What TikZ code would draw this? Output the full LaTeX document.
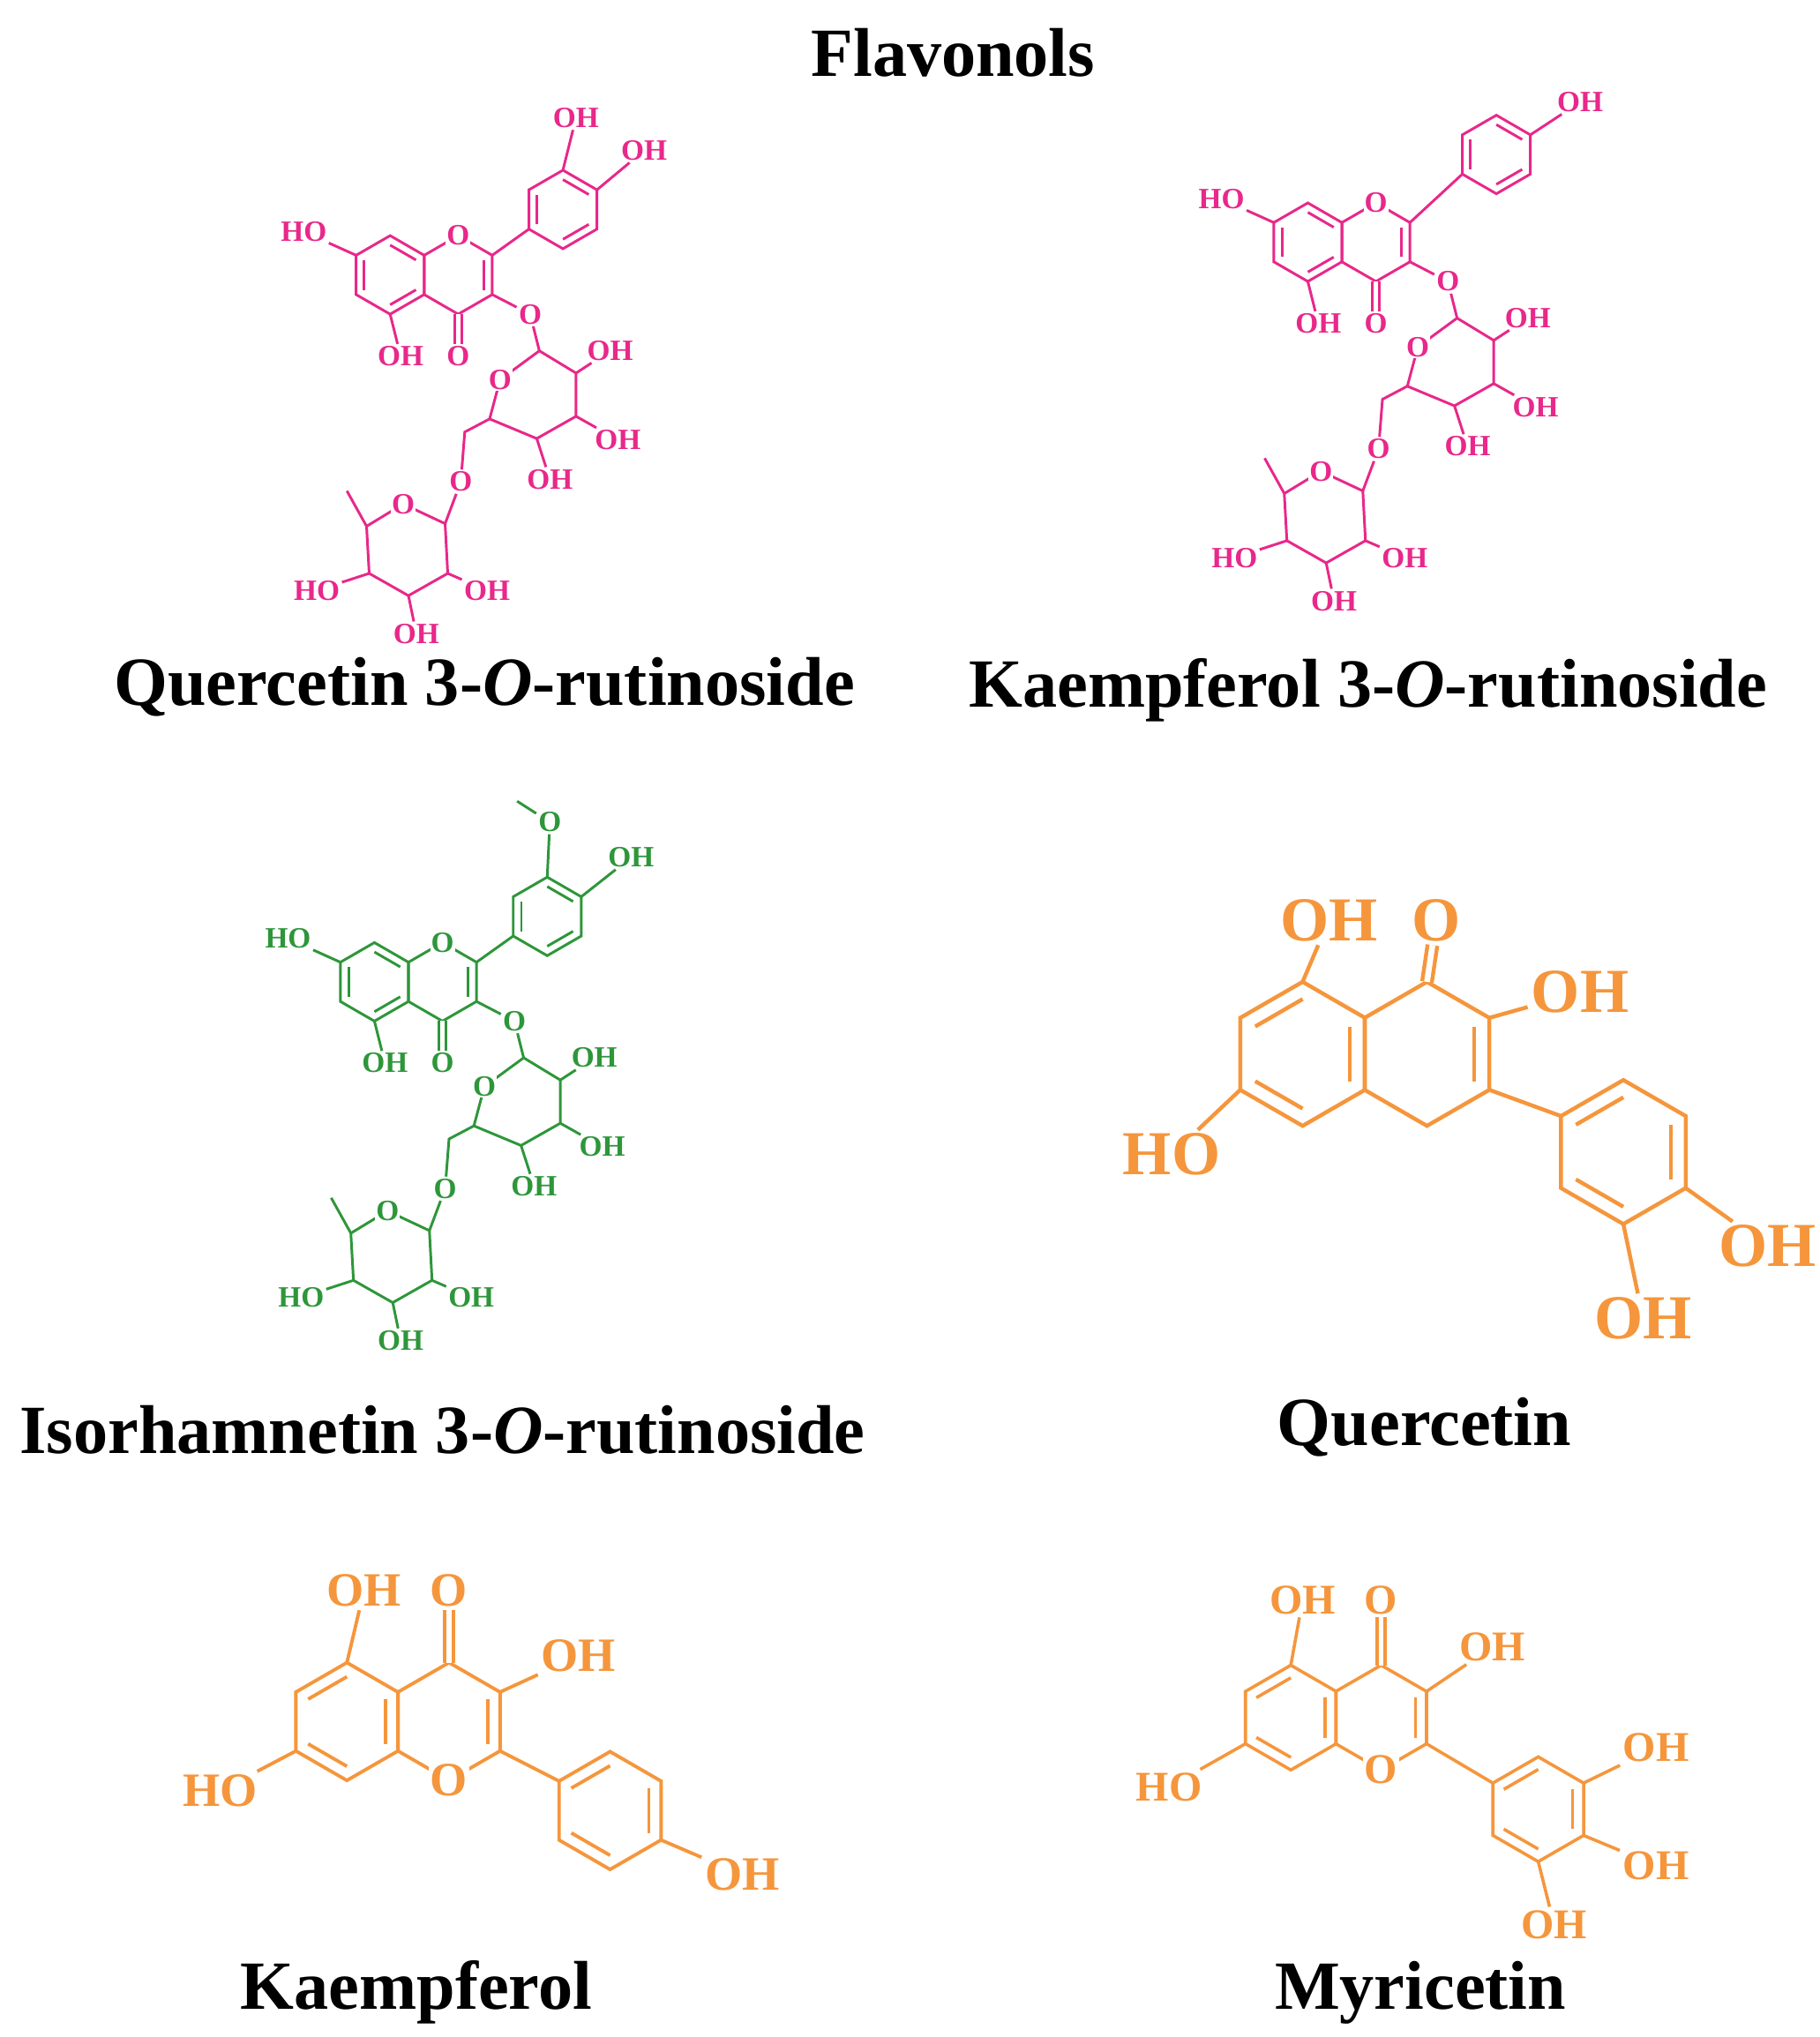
\documentclass[tikz,border=0pt]{standalone}
\usepackage{fontspec}
\setmainfont{Liberation Serif}
\usetikzlibrary{calc}
\definecolor{pk}{RGB}{232,40,138}
\definecolor{gr}{RGB}{46,150,58}
\definecolor{og}{RGB}{245,150,60}
\newcommand{\hexr}[4]{%
 \coordinate (#1-c) at (#2,#3);
 \foreach \k in {0,...,5}{\coordinate (#1-\k) at ([shift={({-90+60*\k}:#4)}]#2,#3);}
 \draw (#1-0)--(#1-1)--(#1-2)--(#1-3)--(#1-4)--(#1-5)--cycle;}
\newcommand{\inb}[3]{\draw ($(#1-c)!0.76!(#1-#2)$) -- ($(#1-c)!0.76!(#1-#3)$);}
\newcommand{\rutin}[4]{%
\begin{scope}[shift={(#2,#3)},color=#4,line width=0.1cm,every node/.style={lab}]
\hexr{#1A}{298}{210}{30}
\hexr{#1C}{350}{210}{30}
\inb{#1A}{0}{1}\inb{#1A}{2}{3}\inb{#1A}{4}{5}\inb{#1C}{1}{2}
\node (#1HO7) at (232,177){HO}; \draw (#1A-5)--(#1HO7);
\node (#1OH5) at (306,272){OH}; \draw (#1A-3)--(#1OH5);
\node (#1O4) at (350,272){O}; \draw[dbl] (#1C-3)--(#1O4);
\node[ringO] at (#1C-0){O};
\node (#1O3) at (405,240){O}; \draw (#1C-2)--(#1O3);
\coordinate (#1g0) at (382,290); \coordinate (#1g1) at (412,268);
\coordinate (#1g2) at (440,285); \coordinate (#1g3) at (440,318);
\coordinate (#1g4) at (410,335); \coordinate (#1g5) at (374,320);
\draw (#1g0)--(#1g1)--(#1g2)--(#1g3)--(#1g4)--(#1g5)--cycle;
\node[ringO] at (#1g0){O};
\draw (#1O3)--(#1g1);
\node (#1gh2) at (466,268){OH}; \draw (#1g2)--(#1gh2);
\node (#1gh3) at (472,336){OH}; \draw (#1g3)--(#1gh3);
\node (#1gh4) at (420,366){OH}; \draw (#1g4)--(#1gh4);
\coordinate (#1g6) at (355,330);
\node (#1O6) at (352,368){O}; \draw (#1g5)--(#1g6)--(#1O6);
\coordinate (#1r0) at (308,385); \coordinate (#1r1) at (340,400);
\coordinate (#1r2) at (342,438); \coordinate (#1r3) at (312,455);
\coordinate (#1r4) at (282,438); \coordinate (#1r5) at (280,402);
\draw (#1r0)--(#1r1)--(#1r2)--(#1r3)--(#1r4)--(#1r5)--cycle;
\node[ringO] at (#1r0){O};
\draw (#1O6)--(#1r1);
\coordinate (#1me) at (265,375); \draw (#1r5)--(#1me);
\node (#1rh4) at (242,451){HO}; \draw (#1r4)--(#1rh4);
\node (#1rh3) at (318,484){OH}; \draw (#1r3)--(#1rh3);
\node (#1rh2) at (372,451){OH}; \draw (#1r2)--(#1rh2);
\end{scope}}
\begin{document}
\begin{tikzpicture}[x=0.05cm,y=-0.05cm,
 lab/.style={font=\fontsize{32}{32}\selectfont\bfseries,inner sep=1pt},
 ringO/.style={lab,fill=white},
 dbl/.style={double,double distance=0.16cm},
 ttl/.style={font=\fontsize{75}{75}\selectfont\bfseries,inner sep=0pt},
 kl/.style={font=\fontsize{52}{52}\selectfont\bfseries,inner sep=2pt},
 ml/.style={font=\fontsize{46}{46}\selectfont\bfseries,inner sep=2pt},
 ql/.style={font=\fontsize{68}{68}\selectfont\bfseries,inner sep=2pt}]
\useasboundingbox (0,0) rectangle (1390,1556);
\node[ttl] (t0) at (728,40) {Flavonols};
\node[ttl] (t1) at (370,525) {Quercetin 3-\textit{O}-rutinoside};
\node[ttl] (t2) at (1045,527) {Kaempferol 3-\textit{O}-rutinoside};
\node[ttl] (t3) at (338,1092) {Isorhamnetin 3-\textit{O}-rutinoside};
\node[ttl] (t4) at (1088,1090) {Quercetin};
\node[ttl] (t5) at (318,1522) {Kaempferol};
\node[ttl] (t6) at (1085,1522) {Myricetin};
% rutinosides
\rutin{q}{0}{0}{pk}
\rutin{k}{701}{-25}{pk}
\rutin{i}{-12}{540}{gr}
\begin{scope}[color=pk,line width=0.1cm]
\hexr{qB}{430}{160}{30}\inb{qB}{0}{1}\inb{qB}{2}{3}\inb{qB}{4}{5}
\draw (qC-1)--(qB-4);
\node[lab] (qb1) at (440,90){OH}; \draw (qB-0)--(qb1);
\node[lab] (qb2) at (492,115){OH}; \draw (qB-1)--(qb2);
\hexr{kB}{1143}{118}{30}\inb{kB}{0}{1}\inb{kB}{2}{3}\inb{kB}{4}{5}
\draw (kC-1)--(kB-4);
\node[lab] (kb1) at (1207,78){OH}; \draw (kB-1)--(kb1);
\end{scope}
\begin{scope}[color=gr,line width=0.1cm]
\hexr{iB}{418}{700}{30}\inb{iB}{0}{1}\inb{iB}{2}{3}\inb{iB}{4}{5}
\draw (iC-1)--(iB-4);
\node[lab] (ib1) at (482,655){OH}; \draw (iB-1)--(ib1);
\node[lab] (ib0) at (420,628){O}; \coordinate (ime) at (395,612);
\draw (iB-0)--(ib0)--(ime);
\end{scope}
% Quercetin aglycone
\begin{scope}[color=og,line width=0.15cm]
\hexr{QL}{995}{805}{55}\hexr{QR}{1090}{805}{55}\hexr{QB}{1240}{880}{55}
\inb{QL}{5}{0}\inb{QL}{1}{2}\inb{QL}{3}{4}\inb{QR}{1}{2}
\inb{QB}{5}{0}\inb{QB}{1}{2}\inb{QB}{3}{4}
\draw (QR-2)--(QB-5);
\node[ql] (Q1) at (1015,703){OH}; \draw (QL-0)--(Q1);
\node[ql] (Q2) at (1097,703){O}; \draw[dbl,double distance=0.22cm] (QR-0)--(Q2);
\node[ql] (Q3) at (1207,758){OH}; \draw (QR-1)--(Q3);
\node[ql] (Q4) at (895,882){HO}; \draw (QL-4)--(Q4);
\node[ql] (Q5) at (1350,952){OH}; \draw (QB-2)--(Q5);
\node[ql] (Q6) at (1255,1007){OH}; \draw (QB-3)--(Q6);
\end{scope}
% Kaempferol aglycone
\begin{scope}[color=og,line width=0.13cm]
\hexr{KA}{265}{1315}{45}\hexr{KC}{343}{1315}{45}\hexr{KB}{466}{1383}{45}
\inb{KA}{5}{0}\inb{KA}{1}{2}\inb{KA}{3}{4}\inb{KC}{1}{2}
\inb{KB}{5}{0}\inb{KB}{1}{2}\inb{KB}{3}{4}
\draw (KC-2)--(KB-5);
\node[kl,fill=white] at (KC-3){O};
\node[kl] (K1) at (278,1215){OH}; \draw (KA-0)--(K1);
\node[kl] (K2) at (343,1215){O}; \draw[dbl,double distance=0.2cm] (KC-0)--(K2);
\node[kl] (K3) at (442,1265){OH}; \draw (KC-1)--(K3);
\node[kl] (K4) at (168,1368){HO}; \draw (KA-4)--(K4);
\node[kl] (K5) at (567,1432){OH}; \draw (KB-2)--(K5);
\end{scope}
% Myricetin
\begin{scope}[color=og,line width=0.12cm]
\hexr{MA}{986}{1312}{40}\hexr{MC}{1055}{1312}{40}\hexr{MB}{1175}{1382}{40}
\inb{MA}{5}{0}\inb{MA}{1}{2}\inb{MA}{3}{4}\inb{MC}{1}{2}
\inb{MB}{5}{0}\inb{MB}{1}{2}\inb{MB}{3}{4}
\draw (MC-2)--(MB-5);
\node[ml,fill=white] at (MC-3){O};
\node[ml] (M1) at (995,1222){OH}; \draw (MA-0)--(M1);
\node[ml] (M2) at (1055,1222){O}; \draw[dbl,double distance=0.18cm] (MC-0)--(M2);
\node[ml] (M3) at (1140,1258){OH}; \draw (MC-1)--(M3);
\node[ml] (M4) at (893,1365){HO}; \draw (MA-4)--(M4);
\node[ml] (M5) at (1265,1335){OH}; \draw (MB-1)--(M5);
\node[ml] (M6) at (1265,1425){OH}; \draw (MB-2)--(M6);
\node[ml] (M7) at (1187,1470){OH}; \draw (MB-3)--(M7);
\end{scope}
\end{tikzpicture}
\end{document}
